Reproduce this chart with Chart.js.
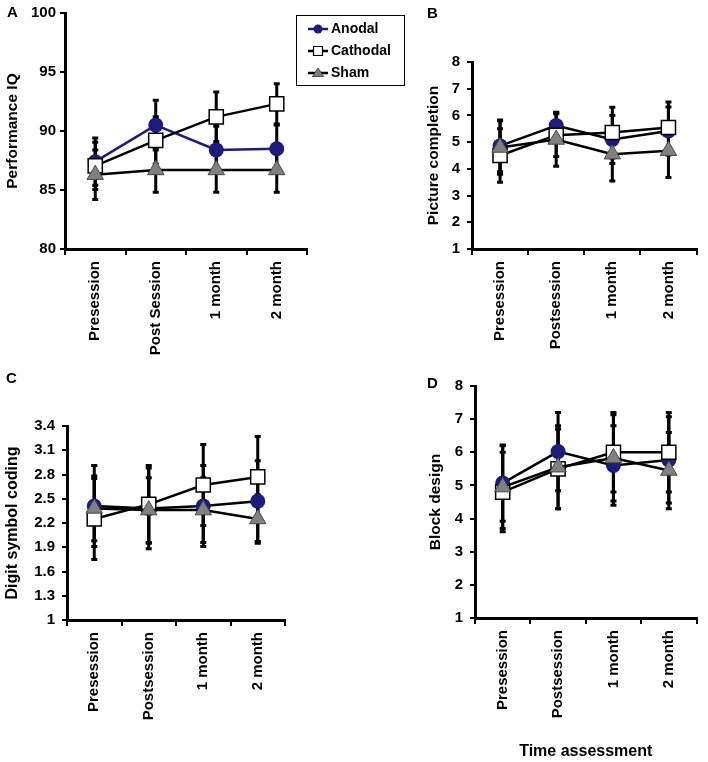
<!DOCTYPE html>
<html>
<head>
<meta charset="utf-8">
<script src="https://cdn.jsdelivr.net/npm/chart.js@4.4.1/dist/chart.umd.min.js"></script>
<style>
body{margin:0;background:#fff;}
#wrap{position:relative;width:708px;height:762px;overflow:hidden;}
canvas{position:absolute;}
</style>
</head>
<body>
<div id="wrap">
<canvas id="cA" width="420" height="370" style="left:0;top:0"></canvas>
<canvas id="cB" width="288" height="370" style="left:420px;top:0"></canvas>
<canvas id="cC" width="354" height="392" style="left:0;top:370px"></canvas>
<canvas id="cD" width="288" height="392" style="left:420px;top:370px"></canvas>
</div>
<script>
const seriesNames=['Anodal','Cathodal','Sham'];
const timesA=['Presession','Post Session','1 month','2 month'];
const timesBCD=['Presession','Postsession','1 month','2 month'];

// A - performance IQ
const iqAnodal=[87.4,90.5,88.4,88.5];
const iqCathodal=[87.05,89.2,91.2,92.3];
const iqSham=[86.3,86.7,86.7,86.7];
const iqAnodalSd=[2.0,2.1,2.0,2.0];
const iqCathodalSd=[2.0,2.0,2.1,1.7];
const iqShamSd=[2.1,1.9,1.9,1.9];
const iqTicks=[80,85,90,95,100];

// B - picture completion
const pcAnodal=[4.86,5.62,5.1,5.42];
const pcCathodal=[4.5,5.26,5.36,5.55];
const pcSham=[4.8,5.1,4.55,4.68];
const pcAnodalSd=[0.97,0.5,0.9,0.9];
const pcCathodalSd=[1.0,0.8,0.95,0.95];
const pcShamSd=[1.0,1.0,1.0,1.0];
const pcTicks=[1,2,3,4,5,6,7,8];

// C - digit symbol coding
const dsAnodal=[2.41,2.38,2.41,2.47];
const dsCathodal=[2.25,2.43,2.67,2.77];
const dsSham=[2.38,2.36,2.36,2.25];
const dsAnodalSd=[0.5,0.5,0.5,0.5];
const dsCathodalSd=[0.5,0.48,0.5,0.5];
const dsShamSd=[0.4,0.4,0.4,0.3];
const dsTicks=[1,1.3,1.6,1.9,2.2,2.5,2.8,3.1,3.4];

// D - block design
const bdAnodal=[5.07,6.02,5.6,5.77];
const bdCathodal=[4.8,5.5,6.0,6.0];
const bdSham=[4.95,5.55,5.83,5.45];
const bdAnodalSd=[1.15,1.18,1.2,1.3];
const bdCathodalSd=[1.2,1.2,1.2,1.2];
const bdShamSd=[1.25,1.25,1.3,1.15];
const bdTicks=[1,2,3,4,5,6,7,8];

const navy='#1c1c7c';
const fam='"Liberation Sans", Arial, sans-serif';
const tickFont={family:fam,size:15,weight:'bold'};

const looks=[
  {pointStyle:'circle',pointRadius:7.5,pointBackgroundColor:navy,pointBorderColor:navy,pointBorderWidth:0,order:2},
  {pointStyle:'rect',pointRadius:10,pointBackgroundColor:'#fff',pointBorderColor:'#000',pointBorderWidth:1.5,order:1},
  {pointStyle:'triangle',pointRadius:9.5,pointBackgroundColor:'#808080',pointBorderColor:'#4a4a4a',pointBorderWidth:1,order:0}
];

// error bars, drawn under the lines and markers
const errorBars={id:'errorBars',beforeDatasetsDraw(chart){
  const ctx=chart.ctx,x=chart.scales.x,y=chart.scales.y;
  ctx.save();
  ctx.strokeStyle='#000';ctx.lineWidth=3;
  chart.data.datasets.forEach(ds=>{
    ds.sd.forEach((sd,i)=>{
      const px=x.getPixelForValue(i);
      const hi=y.getPixelForValue(ds.data[i]+sd),lo=y.getPixelForValue(ds.data[i]-sd);
      ctx.beginPath();
      ctx.moveTo(px,hi);ctx.lineTo(px,lo);
      ctx.moveTo(px-3,hi);ctx.lineTo(px+3,hi);
      ctx.moveTo(px-3,lo);ctx.lineTo(px+3,lo);
      ctx.stroke();
    });
  });
  ctx.restore();
}};

const panelLetter={id:'panelLetter',afterDraw(chart,args,o){
  const ctx=chart.ctx;
  ctx.save();
  ctx.fillStyle='#000';
  ctx.font='bold 15px '+fam;
  ctx.textBaseline='middle';ctx.textAlign='left';
  ctx.fillText(o.text,o.x,o.y);
  ctx.restore();
}};

function marker(ctx,style,x,y){
  ctx.beginPath();
  if(style==='circle'){ctx.fillStyle=navy;ctx.arc(x,y,4.5,0,Math.PI*2);ctx.fill();}
  else if(style==='rect'){ctx.fillStyle='#fff';ctx.strokeStyle='#000';ctx.lineWidth=1.2;ctx.rect(x-4.5,y-4.5,9,9);ctx.fill();ctx.stroke();}
  else{ctx.fillStyle='#808080';ctx.strokeStyle='#4a4a4a';ctx.lineWidth=1;ctx.moveTo(x,y-5);ctx.lineTo(x+5.5,y+3.5);ctx.lineTo(x-5.5,y+3.5);ctx.closePath();ctx.fill();ctx.stroke();}
}

const boxLegend={id:'boxLegend',afterDraw(chart,args,o){
  if(!o.display) return;
  const ctx=chart.ctx;
  ctx.save();
  ctx.strokeStyle='#000';ctx.lineWidth=1;
  ctx.strokeRect(o.x+0.5,o.y+0.5,o.w,o.h);
  ctx.font='bold 14px '+fam;
  ctx.textBaseline='middle';ctx.textAlign='left';
  chart.data.datasets.forEach((ds,i)=>{
    const yy=o.y+14+i*22;
    ctx.strokeStyle=ds.borderColor;ctx.lineWidth=2.5;
    ctx.beginPath();ctx.moveTo(o.x+12,yy);ctx.lineTo(o.x+32,yy);ctx.stroke();
    marker(ctx,ds.pointStyle,o.x+22,yy);
    ctx.fillStyle='#000';
    ctx.fillText(ds.label,o.x+35,yy);
  });
  ctx.restore();
}};

function makePanel(id,p){
  const cv=document.getElementById(id);
  const W=cv.width,H=cv.height;
  const datasets=p.means.map((m,i)=>Object.assign({
    label:seriesNames[i],data:m,sd:p.sds[i],
    borderColor:p.lineColors[i],borderWidth:2.5,tension:0,fill:false,
    pointHoverRadius:looks[i].pointRadius
  },looks[i]));
  new Chart(cv,{
    type:'line',
    data:{labels:p.labels,datasets:datasets},
    options:{
      responsive:false,animation:false,events:[],
      layout:{padding:{left:0,top:p.area.top,right:W-p.area.right,bottom:0}},
      plugins:{legend:{display:false},tooltip:{enabled:false},
        panelLetter:p.letter,boxLegend:p.legend||{display:false}},
      scales:{
        x:{offset:true,
          grid:{offset:true,drawOnChartArea:false,tickLength:6,color:'#000',lineWidth:2},
          border:{color:'#000',width:3},
          ticks:{color:'#000',font:tickFont,minRotation:90,maxRotation:90,autoSkip:false,padding:6},
          title:{display:!!p.xTitle,text:p.xTitle||'',color:'#000',font:{family:fam,size:16,weight:'bold'},padding:{top:0,bottom:1}},
          afterFit:s=>{s.height=H-p.area.bottom;}
        },
        y:{min:p.ticks[0],max:p.ticks[p.ticks.length-1],
          afterBuildTicks:s=>{s.ticks=p.ticks.map(v=>({value:v}));},
          grid:{drawOnChartArea:false,tickLength:5,color:'#000',lineWidth:2},
          border:{color:'#000',width:3},
          ticks:{color:'#000',font:tickFont,padding:p.tickPad,callback:v=>String(Math.round(v*10)/10)},
          title:{display:true,text:p.yTitle,color:'#000',font:{family:fam,size:p.titleSize,weight:'bold'},padding:{top:p.titlePad,bottom:0}},
          afterFit:s=>{s.width=p.area.left;}
        }
      }
    },
    plugins:[errorBars,panelLetter,boxLegend]
  });
}

makePanel('cA',{labels:timesA,means:[iqAnodal,iqCathodal,iqSham],sds:[iqAnodalSd,iqCathodalSd,iqShamSd],
  ticks:iqTicks,yTitle:'Performance IQ',titleSize:15.5,titlePad:3.7,tickPad:4,lineColors:[navy,'#000','#000'],
  area:{left:65,top:12,right:307,bottom:249},letter:{text:'A',x:7,y:13},
  legend:{display:true,x:296,y:15,w:108,h:70}});
makePanel('cB',{labels:timesBCD,means:[pcAnodal,pcCathodal,pcSham],sds:[pcAnodalSd,pcCathodalSd,pcShamSd],
  ticks:pcTicks,yTitle:'Picture completion',titleSize:15.5,titlePad:4.7,tickPad:7,lineColors:['#000','#000','#000'],
  area:{left:52,top:62,right:277,bottom:249},letter:{text:'B',x:7,y:14}});
makePanel('cC',{labels:timesBCD,means:[dsAnodal,dsCathodal,dsSham],sds:[dsAnodalSd,dsCathodalSd,dsShamSd],
  ticks:dsTicks,yTitle:'Digit symbol coding',titleSize:16,titlePad:3.4,tickPad:7,lineColors:['#000','#000','#000'],
  area:{left:67,top:56,right:285,bottom:250},letter:{text:'C',x:6,y:9}});
makePanel('cD',{labels:timesBCD,means:[bdAnodal,bdCathodal,bdSham],sds:[bdAnodalSd,bdCathodalSd,bdShamSd],
  ticks:bdTicks,yTitle:'Block design',titleSize:15.5,titlePad:6.7,tickPad:7,lineColors:['#000','#000','#000'],xTitle:'Time assessment',
  area:{left:55,top:15,right:282,bottom:248},letter:{text:'D',x:7,y:14}});
</script>
</body>
</html>
